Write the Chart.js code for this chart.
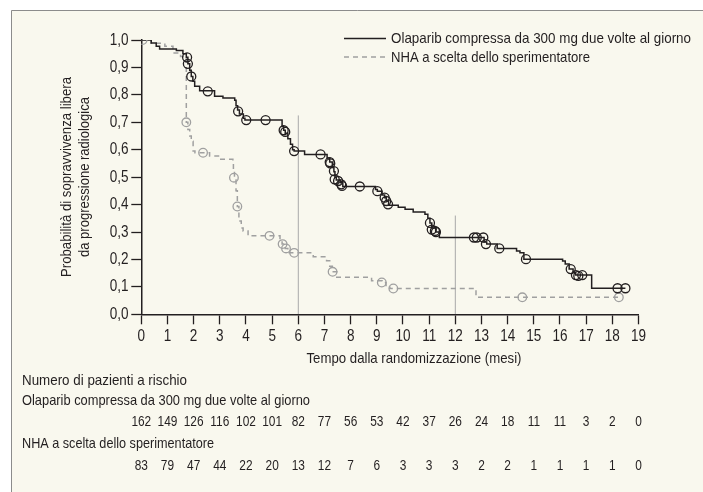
<!DOCTYPE html>
<html><head><meta charset="utf-8">
<script src="https://cdn.jsdelivr.net/npm/chart.js@4.4.1/dist/chart.umd.min.js"></script>
<style>
html,body{margin:0;padding:0;background:#fff;overflow:hidden;}
canvas{position:absolute;left:0;top:0;}
</style></head><body>
<canvas id="c" width="703" height="492"></canvas>
<script>
// ---- data ----
const monthLabels = ['0','1','2','3','4','5','6','7','8','9','10','11','12','13','14','15','16','17','18','19'];
const yTickLabels = ['0,0','0,1','0,2','0,3','0,4','0,5','0,6','0,7','0,8','0,9','1,0'];

const seriesNames = ['Olaparib compressa da 300 mg due volte al giorno', 'NHA a scelta dello sperimentatore'];

const olaparibTimes = [0,0.38,0.57,0.70,1.34,1.59,1.72,1.78,1.85,1.91,1.97,2.04,2.23,2.80,3.12,3.57,3.62,3.68,3.75,3.90,3.96,5.38,5.44,5.50,5.60,5.70,5.78,5.84,6.24,7.10,7.20,7.30,7.36,7.40,7.45,7.60,7.70,8.95,9.02,9.20,9.30,9.36,9.45,9.82,10.08,10.39,10.84,10.95,11.03,11.10,11.25,11.39,13.10,13.20,13.60,14.34,14.47,14.62,16.10,16.20,16.35,16.50,16.60,17.21,18.50];
const olaparibSurv  = [1.0,0.989,0.977,0.967,0.962,0.950,0.937,0.913,0.890,0.867,0.850,0.831,0.815,0.795,0.789,0.780,0.760,0.745,0.730,0.715,0.708,0.685,0.671,0.660,0.640,0.620,0.600,0.595,0.583,0.570,0.555,0.535,0.520,0.500,0.490,0.480,0.466,0.455,0.449,0.435,0.425,0.413,0.398,0.390,0.383,0.373,0.365,0.350,0.333,0.315,0.300,0.280,0.264,0.256,0.240,0.231,0.224,0.201,0.194,0.183,0.165,0.152,0.143,0.095,0.095];

const nhaTimes = [0,0.37,0.90,1.21,1.50,1.72,1.78,1.85,1.91,1.98,2.05,2.61,3.00,3.50,3.52,3.56,3.62,3.67,3.73,3.82,3.89,4.08,5.30,5.38,5.50,5.60,6.57,7.08,7.20,7.30,7.47,8.80,9.20,9.35,9.50,12.79,18.25];
const nhaSurv  = [1.0,0.988,0.977,0.953,0.940,0.700,0.674,0.650,0.631,0.595,0.589,0.577,0.565,0.559,0.520,0.490,0.450,0.393,0.340,0.315,0.304,0.286,0.272,0.256,0.240,0.224,0.210,0.195,0.175,0.155,0.135,0.122,0.116,0.105,0.094,0.062,0.062];

const olaparibCensorTimes = [1.75,1.78,1.91,2.54,3.70,4.01,4.75,5.44,5.50,5.84,6.85,7.20,7.22,7.36,7.39,7.52,7.64,7.67,8.35,9.02,9.30,9.36,9.43,11.03,11.10,11.22,11.26,12.71,12.82,13.07,13.17,13.68,14.70,16.41,16.61,16.70,16.85,18.20,18.50];
const olaparibCensorSurv  = [0.937,0.913,0.867,0.813,0.740,0.708,0.708,0.671,0.665,0.595,0.583,0.555,0.550,0.522,0.492,0.486,0.474,0.468,0.466,0.449,0.425,0.413,0.401,0.333,0.309,0.304,0.300,0.280,0.280,0.280,0.256,0.240,0.201,0.165,0.143,0.140,0.143,0.095,0.095];

const nhaCensorTimes = [0.05,1.72,2.36,3.54,3.67,4.90,5.40,5.53,5.84,7.31,9.19,9.63,14.56,18.25];
const nhaCensorSurv  = [1.0,0.700,0.589,0.498,0.393,0.286,0.256,0.240,0.224,0.155,0.116,0.094,0.062,0.062];

const refLineTimes = [6, 12];
const refLineTops  = [0.725, 0.36];

const riskOlaparib = [162,149,126,116,102,101,82,77,56,53,42,37,26,24,18,11,11,3,2,0];
const riskNha      = [83,79,47,44,22,20,13,12,7,6,3,3,3,2,2,1,1,1,1,0];

// ---- styling ----
const FONT = "'Liberation Sans', Arial, sans-serif";
const COND = 0.82;
const TEXT = '#231f20';
const GREY = '#a0a0a0';
const BG = '#f9f8ee';

const zip = (xs, ys) => xs.map((x, i) => ({x, y: ys[i]}));

const datasets = [
  {label:'olaparib-censor', data: zip(olaparibCensorTimes, olaparibCensorSurv), showLine:false,
   pointRadius:4.5, pointBorderWidth:1.3, pointBorderColor:TEXT, pointBackgroundColor:'rgba(0,0,0,0)'},
  {label:'nha-censor', data: zip(nhaCensorTimes, nhaCensorSurv), showLine:false,
   pointRadius:4.3, pointBorderWidth:1.3, pointBorderColor:GREY, pointBackgroundColor:'rgba(0,0,0,0)'},
  {label:seriesNames[0], data: zip(olaparibTimes, olaparibSurv), stepped:true, borderColor:TEXT, borderWidth:1.5, pointRadius:0, fill:false},
  {label:seriesNames[1], data: zip(nhaTimes, nhaSurv), stepped:true, borderColor:GREY, borderWidth:1.5, borderDash:[5,4], pointRadius:0, fill:false},
];
refLineTimes.forEach((t, i) => {
  datasets.push({label:'ref'+i, data:[{x:t,y:0},{x:t,y:refLineTops[i]}], borderColor:'#a9a9a9', borderWidth:1, pointRadius:0, fill:false});
});

// draw condensed text: size in px; if targetW given, horizontal squeeze fitted to it
function condText(ctx, text, x, y, size, align, targetW, weight) {
  ctx.save();
  ctx.font = `${weight||'normal'} ${size}px ${FONT}`;
  const w = ctx.measureText(text).width;
  const sx = targetW ? targetW / w : COND;
  const drawnW = w * sx;
  let left = x;
  if (align === 'center') left = x - drawnW / 2;
  else if (align === 'right') left = x - drawnW;
  ctx.translate(left, y);
  ctx.scale(sx, 1);
  ctx.textAlign = 'left';
  ctx.fillText(text, 0, 0);
  ctx.restore();
}

const decor = {
  id:'decor',
  beforeDraw(chart) {
    const ctx = chart.ctx;
    ctx.save();
    ctx.fillStyle = '#ffffff';
    ctx.fillRect(0, 0, 703, 492);
    ctx.fillStyle = BG;
    ctx.fillRect(11, 10, 700, 490);
    ctx.strokeStyle = '#8c8c8c';
    ctx.lineWidth = 1;
    ctx.beginPath();
    ctx.moveTo(11.5, 500); ctx.lineTo(11.5, 10.5); ctx.lineTo(710, 10.5);
    ctx.stroke();
    ctx.restore();
  },
  afterDraw(chart) {
    const ctx = chart.ctx;
    const xs = chart.scales.x, ys = chart.scales.y;
    ctx.save();
    ctx.fillStyle = TEXT;
    ctx.textBaseline = 'middle';
    // tick labels (positions from the chart's scales)
    monthLabels.forEach((lab, i) => condText(ctx, lab, xs.getPixelForValue(i), 336, 16.5, 'center'));
    yTickLabels.forEach((lab, i) => condText(ctx, lab, 128.5, ys.getPixelForValue(i / 10), 16.5, 'right'));
    // legend
    ctx.strokeStyle = TEXT; ctx.lineWidth = 1.5;
    ctx.beginPath(); ctx.moveTo(344, 38.5); ctx.lineTo(386, 38.5); ctx.stroke();
    ctx.strokeStyle = GREY; ctx.setLineDash([5,4]);
    ctx.beginPath(); ctx.moveTo(344, 57); ctx.lineTo(386, 57); ctx.stroke();
    ctx.setLineDash([]);
    condText(ctx, seriesNames[0], 391, 39, 15, 'left', 300);
    condText(ctx, seriesNames[1], 391, 57.5, 15, 'left', 199);
    // axis titles
    condText(ctx, 'Tempo dalla randomizzazione (mesi)', 414, 359, 15, 'center', 215);
    ctx.save();
    ctx.translate(67, 177); ctx.rotate(-Math.PI/2);
    condText(ctx, 'Probabilità di sopravvivenza libera', 0, 0, 15, 'center', 200);
    ctx.restore();
    ctx.save();
    ctx.translate(85, 177); ctx.rotate(-Math.PI/2);
    condText(ctx, 'da progressione radiologica', 0, 0, 15, 'center', 160);
    ctx.restore();
    // risk table
    condText(ctx, 'Numero di pazienti a rischio', 22, 381, 15, 'left', 165);
    condText(ctx, seriesNames[0], 22, 401, 14.5, 'left', 288);
    condText(ctx, seriesNames[1], 22, 444, 14.5, 'left', 192);
    riskOlaparib.forEach((v, i) => condText(ctx, String(v), xs.getPixelForValue(i), 422, 14.5, 'center'));
    riskNha.forEach((v, i) => condText(ctx, String(v), xs.getPixelForValue(i), 466, 14.5, 'center'));
    ctx.restore();
  }
};

new Chart(document.getElementById('c'), {
  type:'line',
  data:{datasets},
  plugins:[decor],
  options:{
    responsive:false, animation:false, devicePixelRatio:1,
    layout:{padding:{left:0, top:40, right:64.5, bottom:0}},
    plugins:{legend:{display:false}, tooltip:{enabled:false}},
    scales:{
      x:{type:'linear', min:0, max:19,
        afterFit(s){ s.height = 492 - 314.3; },
        ticks:{stepSize:1, autoSkip:false, maxRotation:0, padding:4, color:'rgba(0,0,0,0)',
          font:{family:FONT, size:13}, callback:(v) => monthLabels[Math.round(v)]},
        grid:{drawOnChartArea:false, drawTicks:true, tickLength:10, tickColor:TEXT, tickWidth:1.3},
        border:{display:true, color:TEXT, width:1.5}},
      y:{type:'linear', min:0, max:1,
        afterFit(s){ s.width = 141.3; },
        ticks:{stepSize:0.1, padding:3, color:'rgba(0,0,0,0)', font:{family:FONT, size:13},
          callback:(v) => yTickLabels[Math.round(v*10)]},
        grid:{drawOnChartArea:false, drawTicks:true, tickLength:10, tickColor:TEXT, tickWidth:1.3},
        border:{display:true, color:TEXT, width:1.5}}
    }
  }
});
</script>
</body></html>
